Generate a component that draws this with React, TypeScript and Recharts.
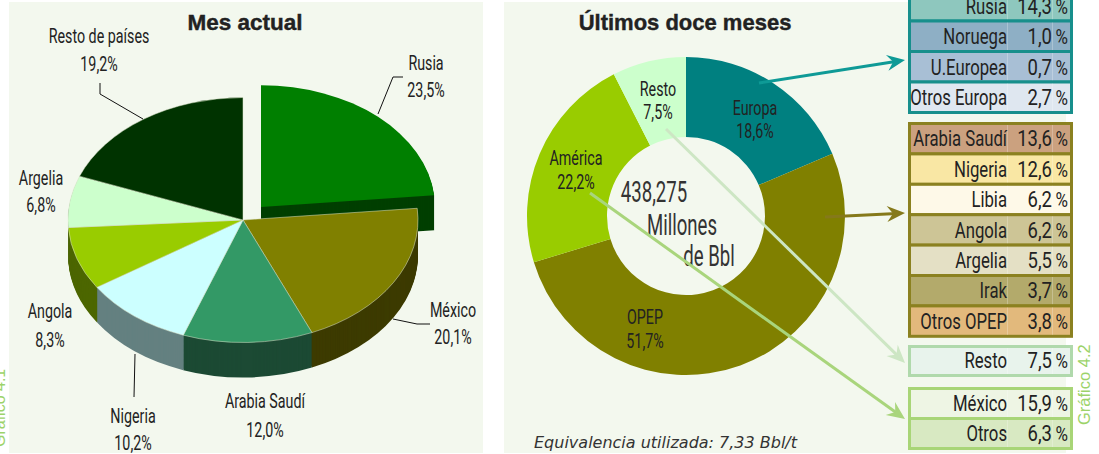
import React from "react";
import { PieChart, Pie, Cell } from "recharts";

const monthNames = ["Rusia", "México", "Arabia Saudí", "Nigeria", "Angola", "Argelia", "Resto de países"];
const monthValues = [23.5, 20.1, 12.0, 10.2, 8.3, 6.8, 19.2];
const monthTopColors = ["#007F00", "#808000", "#339966", "#CCFFFF", "#99CC00", "#CCFFCC", "#003300"];
const monthWallColors = ["#003F00", "#3D3B00", "#1C4A34", "#648080", "#4C6600", "#66806A", "#001A00"];

const yearNames = ["Europa", "OPEP", "América", "Resto"];
const yearValues = [18.6, 51.7, 22.2, 7.5];
const yearColors = ["#008080", "#808000", "#99CC00", "#CCFFCC"];

const europeNames = ["Rusia", "Noruega", "U.Europea", "Otros Europa"];
const europeValues = ["14,3", "1,0", "0,7", "2,7"];
const europeFills = ["#8EC7BE", "#8EAFC5", "#A8BFD5", "#DFE7F0"];
const opecNames = ["Arabia Saudí", "Nigeria", "Libia", "Angola", "Argelia", "Irak", "Otros OPEP"];
const opecValues = ["13,6", "12,6", "6,2", "6,2", "5,5", "3,7", "3,8"];
const opecFills = ["#CBA17F", "#F9E7A4", "#FEF9E8", "#CDC596", "#E4E0C5", "#B3AA6B", "#E2B97C"];
const restNames = ["Resto"];
const restValues = ["7,5"];
const restFills = ["#E8F3EC"];
const americaNames = ["México", "Otros"];
const americaValues = ["15,9", "6,3"];
const americaFills = ["#EEF5E4", "#D8E9C2"];

const monthData = monthNames.map((name, i) => ({ name, value: monthValues[i] }));
const yearData = yearNames.map((name, i) => ({ name, value: yearValues[i] }));

const PANEL = "#F3F8EE";
const INK = "#222";
const SQUASH = 0.7;
const DEPTH = 35;
const layers = Array.from({ length: DEPTH }, (_, i) => DEPTH - i);

const Narrow = ({ x, y, text, size = 21, sx = 0.68, fill = INK }: any) => (
  <text
    transform={`translate(${x},${y}) scale(${sx},1)`}
    textAnchor="middle"
    fontFamily="Roboto, sans-serif"
    fontSize={size}
    fill={fill}
  >
    {text}
  </text>
);

const TwoLine = ({ x, y, name, value, gap = 27 }: any) => (
  <g>
    <Narrow x={x} y={y} text={name} />
    <Narrow x={x} y={y + gap} text={value} />
  </g>
);

const Arrow = ({ x1, y1, x2, y2, color }: any) => {
  const a = Math.atan2(y2 - y1, x2 - x1);
  const p = (d: number, o: number) =>
    `${x2 - d * Math.cos(a) - o * Math.sin(a)},${y2 - d * Math.sin(a) + o * Math.cos(a)}`;
  return (
    <g>
      <line x1={x1} y1={y1} x2={x2 - 8 * Math.cos(a)} y2={y2 - 8 * Math.sin(a)} stroke={color} strokeWidth={3} />
      <polygon points={`${x2},${y2} ${p(18, 8)} ${p(12, 0)} ${p(18, -8)}`} fill={color} />
    </g>
  );
};

const Table = ({ top, rowH, border, names, values, fills }: any) => {
  const left = 908;
  const width = 165;
  return (
    <g>
      {names.map((n: string, i: number) => {
        const y = top + i * rowH;
        return (
          <g key={n}>
            <rect x={left + 1.5} y={y + 1.5} width={width - 3} height={rowH - 0} fill={fills[i]} stroke={border} strokeWidth={3} />
            <line x1={1007.5} x2={1007.5} y1={y + 3} y2={y + rowH} stroke="#fff" strokeOpacity={0.25} />
            <line x1={1052.5} x2={1052.5} y1={y + 3} y2={y + rowH} stroke="#fff" strokeOpacity={0.25} />
            <text transform={`translate(1007,${y + rowH - 6}) scale(0.76,1)`} textAnchor="end" fontFamily="Roboto, sans-serif" fontSize={22} fill={INK}>
              {n}
            </text>
            <text transform={`translate(1052,${y + rowH - 6}) scale(0.84,1)`} textAnchor="end" fontFamily="Roboto, sans-serif" fontSize={22} fill={INK}>
              {values[i]}
            </text>
            <text transform={`translate(1068,${y + rowH - 6}) scale(0.85,1)`} textAnchor="end" fontFamily="Roboto, sans-serif" fontSize={20} fill={INK}>
              %
            </text>
          </g>
        );
      })}
    </g>
  );
};

const ThreeDPie = () => {
  const common = { data: monthData, dataKey: "value", startAngle: 90, endAngle: -270, isAnimationActive: false } as any;
  return (
    <div style={{ position: "absolute", left: 0, top: 0, transform: `scaleY(${SQUASH})`, transformOrigin: "0 0" }}>
      <PieChart width={500} height={454 / SQUASH} margin={{ top: 0, right: 0, bottom: 0, left: 0 }}>
        {layers.map((d) => (
          <Pie key={`rw${d}`} {...common} cx={261} cy={(207 + d) / SQUASH} outerRadius={174} innerRadius={0} stroke="none">
            {monthNames.map((n, i) => (
              <Cell key={n} fill={i === 0 ? monthWallColors[0] : "none"} />
            ))}
          </Pie>
        ))}
        <Pie {...common} cx={261} cy={207 / SQUASH} outerRadius={174} innerRadius={0} stroke="none">
          {monthNames.map((n, i) => (
            <Cell key={n} fill={i === 0 ? monthTopColors[0] : "none"} />
          ))}
        </Pie>
        {layers.map((d) => (
          <Pie key={`mw${d}`} {...common} cx={243} cy={(220 + d) / SQUASH} outerRadius={175} innerRadius={0} stroke="none">
            {monthNames.map((n, i) => (
              <Cell key={n} fill={i === 0 ? "none" : monthWallColors[i]} />
            ))}
          </Pie>
        ))}
        <Pie {...common} cx={243} cy={220 / SQUASH} outerRadius={175} innerRadius={0} stroke="none">
          {monthNames.map((n, i) => (
            <Cell
              key={n}
              fill={i === 0 ? "none" : monthTopColors[i]}
              stroke={i === 0 ? "none" : "#DDE5CC"}
              strokeWidth={i === 0 ? 0 : 0.6}
            />
          ))}
        </Pie>
      </PieChart>
    </div>
  );
};

const Donut = () => (
  <div style={{ position: "absolute", left: 500, top: 0 }}>
    <PieChart width={400} height={454} margin={{ top: 0, right: 0, bottom: 0, left: 0 }}>
      <Pie
        data={yearData}
        dataKey="value"
        cx={186}
        cy={216}
        innerRadius={79}
        outerRadius={159}
        startAngle={90}
        endAngle={-270}
        stroke="none"
        isAnimationActive={false}
      >
        {yearNames.map((n, i) => (
          <Cell key={n} fill={yearColors[i]} />
        ))}
      </Pie>
    </PieChart>
  </div>
);

export default function App() {
  return (
    <div style={{ position: "absolute", left: 0, top: 0, width: 1099, height: 454, overflow: "hidden", background: "#fff" }}>
      <div style={{ position: "absolute", left: 9, top: 2, width: 474, height: 451, background: PANEL }} />
      <div style={{ position: "absolute", left: 504, top: 2, width: 562, height: 451, background: PANEL }} />
      <ThreeDPie />
      <Donut />
      <svg width={1099} height={454} style={{ position: "absolute", left: 0, top: 0 }}>
        <text x={245} y={30} textAnchor="middle" fontFamily="Liberation Sans, sans-serif" fontWeight="bold" fontSize={22.5} fill={INK} stroke={INK} strokeWidth={0.4}>
          Mes actual
        </text>
        <text x={685} y={30} textAnchor="middle" fontFamily="Liberation Sans, sans-serif" fontWeight="bold" fontSize={22} fill={INK} stroke={INK} strokeWidth={0.4}>
          Últimos doce meses
        </text>

        <g fill="none" stroke="#111" strokeWidth={1}>
          <polyline points="100,83 100,94 143,119" />
          <polyline points="403,77 393,77 378,114" />
          <polyline points="393,319 417,324 430,324" />
          <polyline points="135,354 134,397" />
        </g>

        <TwoLine x={99} y={43} name={monthNames[6]} value="19,2%" gap={28} />
        <TwoLine x={426} y={70} name={monthNames[0]} value="23,5%" />
        <TwoLine x={41} y={185} name={monthNames[5]} value="6,8%" />
        <TwoLine x={453} y={317} name={monthNames[1]} value="20,1%" />
        <TwoLine x={50} y={318} name={monthNames[4]} value="8,3%" gap={29} />
        <TwoLine x={265} y={408} name={monthNames[2]} value="12,0%" gap={29} />
        <TwoLine x={133} y={423} name={monthNames[3]} value="10,2%" />

        <TwoLine x={755} y={115} name={yearNames[0]} value="18,6%" gap={23} />
        <TwoLine x={658} y={96} name={yearNames[3]} value="7,5%" gap={23} />
        <TwoLine x={576} y={165} name={yearNames[2]} value="22,2%" gap={24} />
        <TwoLine x={645} y={324} name={yearNames[1]} value="51,7%" gap={24} />

        <Narrow x={654} y={202} text="438,275" size={30} sx={0.62} fill="#333" />
        <Narrow x={682} y={235} text="Millones" size={30} sx={0.62} fill="#333" />
        <Narrow x={709} y={266} text="de Bbl" size={30} sx={0.62} fill="#333" />

        <text x={534} y={448} fontFamily="DejaVu Sans, sans-serif" fontStyle="italic" fontSize={16} fill="#333">
          Equivalencia utilizada: 7,33 Bbl/t
        </text>

        <Arrow x1={759} y1={83} x2={905} y2={60} color="#0E9A96" />
        <Arrow x1={825} y1={217} x2={905} y2={213} color="#85791A" />
        <Arrow x1={666} y1={129} x2={905} y2={363} color="#CDE6C4" />
        <Arrow x1={590} y1={193} x2={905} y2={419} color="#A9D57C" />

        <Table top={-11} rowH={30.5} border="#178F8C" names={europeNames} values={europeValues} fills={europeFills} />
        <Table top={122} rowH={30.4} border="#8B8120" names={opecNames} values={opecValues} fills={opecFills} />
        <Table top={345} rowH={29} border="#B0D9AC" names={restNames} values={restValues} fills={restFills} />
        <Table top={387} rowH={30} border="#A8D577" names={americaNames} values={americaValues} fills={americaFills} />

        <text transform="translate(5,447) rotate(-90)" fontFamily="Liberation Sans, sans-serif" fontSize={16} fill="#9CD36A">
          Gráfico 4.1
        </text>
        <text transform="translate(1090,425) rotate(-90)" fontFamily="Liberation Sans, sans-serif" fontSize={16.5} fill="#9CD36A">
          Gráfico 4.2
        </text>
      </svg>
    </div>
  );
}
